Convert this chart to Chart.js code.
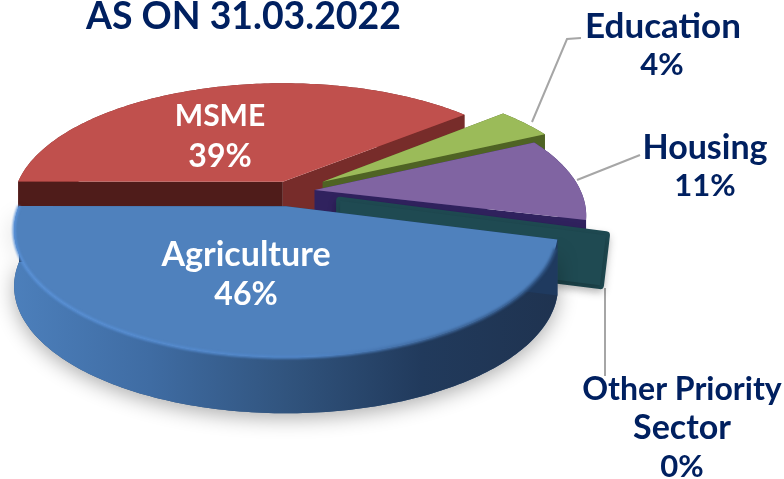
<!DOCTYPE html>
<html>
<head>
<meta charset="utf-8">
<style>
  html, body { margin: 0; padding: 0; background: #fff; }
  canvas { display: block; }
</style>
<script src="https://cdn.jsdelivr.net/npm/chart.js@4"></script>
</head>
<body>
<canvas id="pie" width="784" height="479"></canvas>
<script>
const categories = ['Agriculture', 'MSME', 'Education', 'Housing', 'Other Priority Sector'];
const shareValues = [46, 39, 4, 11, 0.3];
const shareLabels = ['46%', '39%', '4%', '11%', '0%'];
const titleText = 'AS ON 31.03.2022';

const topColors = ['#4f81bd', '#c0504d', '#9bbb59', '#8064a2', '#215058'];
const wallColors = ['#1f3a5f', '#772c2a', '#4f6324', '#3a2a6b', '#1f4a52'];
const startCutColors = ['#1f3a5f', '#4f1c1a', '#4f6324', '#3a2a6b', '#1f4a52'];
const endCutColors = ['#1f3a5f', '#772c2a', '#4f6324', '#30225e', '#1f4a52'];
const explode = [34, 23, 40, 25, 52];
const rimScale = [1, 1.03, 1.05, 1.02, 1];

const NAVY = '#002060';
const FONT_FAMILY = 'Lato, "Open Sans", sans-serif';

// fake 3d: flat disc is pushed through a small perspective before drawing
const view = { x: 286, y: 206, rx: 267, ry: 122.5, tilt: 0.189, depth: 56, shiftX: 0.017, shiftY: -0.125 };

function project(X, Y) {
  const w = 1 - view.tilt * Y;
  return { x: view.x + view.rx * X / w, y: view.y + view.ry * Y / w };
}

// lineTo on an empty path acts as moveTo, so pieces can be chained
function tracePath(ctx, pts, dy) {
  pts.forEach(p => ctx.lineTo(p.x, p.y + dy));
}

function sliceShape(arc, scale) {
  const { startAngle, endAngle, outerRadius } = arc;
  const mid = (startAngle + endAngle) / 2;
  const d = arc.options.offset / outerRadius;
  const ox = view.shiftX + d * Math.cos(mid);
  const oy = view.shiftY + d * Math.sin(mid);
  const rim = [];
  const steps = Math.max(2, Math.ceil((endAngle - startAngle) * 57));
  for (let i = 0; i <= steps; i++) {
    const t = startAngle + (endAngle - startAngle) * i / steps;
    rim.push(project(ox + scale * Math.cos(t), oy + scale * Math.sin(t)));
  }
  return { apex: project(ox, oy), rim };
}

function fillQuad(ctx, a, b, color) {
  ctx.fillStyle = color;
  ctx.beginPath();
  tracePath(ctx, [a, b], 0);
  tracePath(ctx, [b, a], view.depth);
  ctx.closePath();
  ctx.fill();
}

// the 0% slice is so thin that only its cut face shows, with rounded corners
function drawThinSlice(ctx, apex, last) {
  ctx.save();
  ctx.shadowColor = 'rgba(0,0,0,0.22)';
  ctx.shadowBlur = 8;
  ctx.shadowOffsetY = 4;
  ctx.strokeStyle = wallColors[4];
  ctx.fillStyle = wallColors[4];
  ctx.lineWidth = 8;
  ctx.lineJoin = 'round';
  ctx.beginPath();
  ctx.lineTo(apex.x, apex.y + 4);
  ctx.lineTo(last.x - 4, last.y + 6);
  ctx.lineTo(last.x - 10, last.y + view.depth);
  ctx.lineTo(apex.x, apex.y + view.depth);
  ctx.closePath();
  ctx.stroke();
  ctx.fill();
  ctx.restore();
}

function drawSlice(ctx, arc, i) {
  const { apex, rim } = sliceShape(arc, rimScale[i]);
  const last = rim[rim.length - 1];
  const isBlue = i === 0;

  if (i === 4) {
    drawThinSlice(ctx, apex, last);
    return;
  }

  ctx.save();
  let wallFill = wallColors[i];
  if (isBlue) {
    wallFill = ctx.createLinearGradient(14, 0, 558, 0);
    wallFill.addColorStop(0, '#4c7fbb');
    wallFill.addColorStop(0.25, '#3f6ca3');
    wallFill.addColorStop(0.5, '#31547e');
    wallFill.addColorStop(0.75, '#213a5c');
    wallFill.addColorStop(1, '#1f3350');
    ctx.save();
    ctx.shadowColor = 'rgba(0,0,0,0.32)';
    ctx.shadowBlur = 20;
    ctx.shadowOffsetY = 5;
    ctx.fillStyle = '#31547e';
    ctx.beginPath();
    tracePath(ctx, rim, 0);
    tracePath(ctx, rim.slice().reverse(), view.depth);
    ctx.closePath();
    ctx.fill();
    ctx.restore();
  }

  ctx.fillStyle = wallFill;
  ctx.beginPath();
  tracePath(ctx, rim, 0);
  tracePath(ctx, rim.slice().reverse(), view.depth);
  ctx.closePath();
  ctx.fill();

  fillQuad(ctx, apex, rim[0], startCutColors[i]);
  fillQuad(ctx, apex, last, endCutColors[i]);

  // top face
  ctx.fillStyle = topColors[i];
  ctx.beginPath();
  tracePath(ctx, [apex].concat(rim), 0);
  ctx.closePath();
  ctx.fill();

  if (isBlue) {
    const rimLine = ctx.createLinearGradient(14, 0, 558, 0);
    rimLine.addColorStop(0, '#5a92d8');
    rimLine.addColorStop(0.55, '#4f84c6');
    rimLine.addColorStop(0.8, '#3c6497');
    rimLine.addColorStop(1, '#2f5484');
    ctx.strokeStyle = rimLine;
    ctx.lineWidth = 3;
    ctx.filter = 'blur(1px)';
    ctx.beginPath();
    tracePath(ctx, rim.slice(4), 0);
    ctx.stroke();
    ctx.filter = 'none';
  }
  ctx.restore();
}

function leader(ctx, pts) {
  ctx.strokeStyle = '#a6a6a6';
  ctx.lineWidth = 2;
  ctx.beginPath();
  tracePath(ctx, pts, 0);
  ctx.stroke();
}

function drawText(ctx, lines, color) {
  ctx.fillStyle = color;
  ctx.textAlign = 'center';
  ctx.textBaseline = 'middle';
  lines.forEach(l => {
    ctx.font = 'bold ' + l[3] + 'px ' + FONT_FAMILY;
    ctx.fillText(l[0], l[1], l[2]);
  });
}

const pie3d = {
  id: 'pie3d',
  beforeDatasetDraw() {
    return false;
  },
  afterDatasetsDraw(chart) {
    const ctx = chart.ctx;
    const arcs = chart.getDatasetMeta(0).data;

    leader(ctx, [{ x: 532, y: 122 }, { x: 567, y: 39 }, { x: 581, y: 38 }]);
    leader(ctx, [{ x: 577, y: 180 }, { x: 640, y: 155 }]);
    leader(ctx, [{ x: 605, y: 288 }, { x: 605, y: 376 }]);

    // back to front
    [1, 2, 3, 4, 0].forEach(i => drawSlice(ctx, arcs[i], i));

    drawText(ctx, [
      [categories[1], 220, 116, 30], [shareLabels[1], 220, 157, 32],
      [categories[0], 246, 255, 34], [shareLabels[0], 246, 295, 32],
    ], '#ffffff');
    drawText(ctx, [
      [categories[2], 663, 27, 35], [shareLabels[2], 662, 65, 31],
      [categories[3], 705, 148, 34], [shareLabels[3], 705, 186, 31],
      ['Other Priority', 682, 390, 32], ['Sector', 682, 428, 34], [shareLabels[4], 682, 467, 31],
    ], NAVY);
  },
};

new Chart(document.getElementById('pie'), {
  type: 'pie',
  data: {
    labels: categories,
    datasets: [{
      data: shareValues,
      backgroundColor: topColors,
      offset: explode,
      radius: 267,
      borderWidth: 0,
    }],
  },
  options: {
    responsive: false,
    animation: false,
    rotation: 105,
    layout: { padding: { left: 86 } },
    plugins: {
      legend: { display: false },
      tooltip: { enabled: false },
      title: {
        display: true,
        text: titleText,
        align: 'start',
        color: NAVY,
        font: { family: FONT_FAMILY, size: 37.4, weight: 'bold' },
        padding: { top: -6, bottom: 0 },
      },
    },
  },
  plugins: [pie3d],
});
</script>
</body>
</html>
